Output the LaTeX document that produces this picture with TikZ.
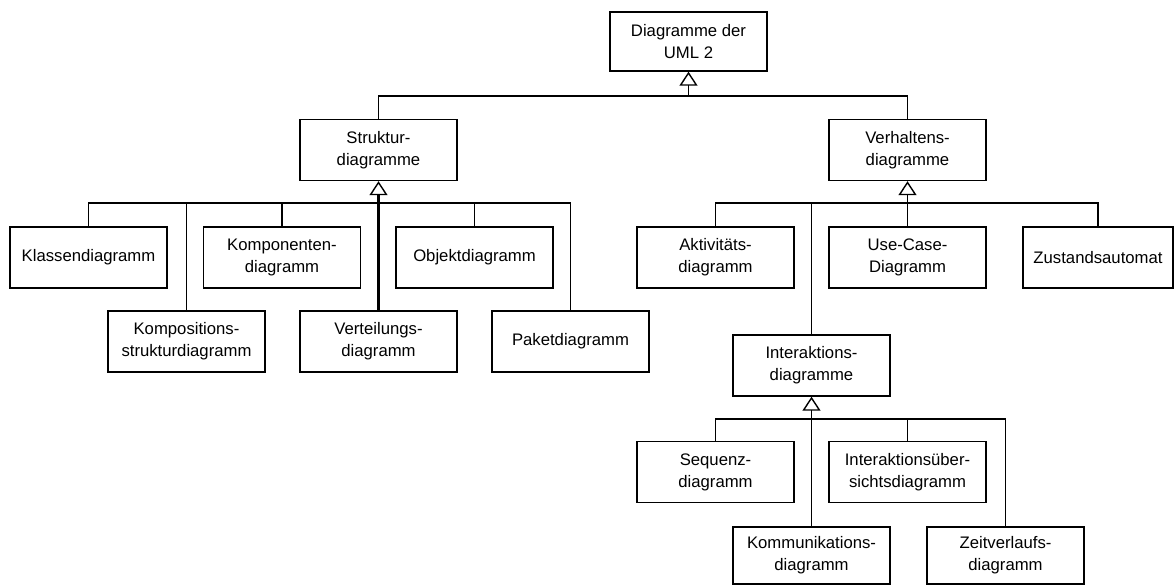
\documentclass[tikz,border=0pt]{standalone}
\usepackage{fontspec}
\setmainfont{Liberation Sans}
\usetikzlibrary{arrows.meta}
\begin{document}
\begin{tikzpicture}[x=1pt,y=-1pt,
  box/.style={draw, line width=1.4pt, minimum width=157pt, minimum height=61pt, inner sep=0pt, align=center, font=\fontsize{16.7}{22}\selectfont},
  conn/.style={line width=1.4pt},
  gen/.style={conn, -{Triangle[open, length=14pt, width=18pt, line width=1.4pt]}},
  boldconn/.style={line width=3pt}
]
\useasboundingbox (0,0) rectangle (1174,585);
\fill[white] (0,0) rectangle (1174,585);

\node[box, minimum height=59pt] (uml) at (688.5,41.5) {Diagramme der\\UML 2};
\node[box] (struktur) at (378.5,150) {Struktur-\\diagramme};
\node[box] (verhalten) at (907.5,150) {Verhaltens-\\diagramme};
\node[box] (klassen) at (88.5,257.5) {Klassendiagramm};
\node[box] (komponenten) at (282,257.5) {Komponenten-\\diagramm};
\node[box] (objekt) at (474.5,257.5) {Objektdiagramm};
\node[box] (kompositionen) at (186.5,341.5) {Kompositions-\\strukturdiagramm};
\node[box] (verteilung) at (378.5,341.5) {Verteilungs-\\diagramm};
\node[box] (paket) at (570.5,341.5) {Paketdiagramm};
\node[box] (aktivitaet) at (715.5,257.5) {Aktivitäts-\\diagramm};
\node[box] (usecase) at (907.5,257.5) {Use-Case-\\Diagramm};
\node[box, minimum width=150pt] (zustand) at (1098,257.5) {Zustandsautomat};
\node[box] (interaktion) at (811.5,365.5) {Interaktions-\\diagramme};
\node[box] (sequenz) at (715.5,472) {Sequenz-\\diagramm};
\node[box] (uebersicht) at (907.5,472) {Interaktionsüber-\\sichtsdiagramm};
\node[box, minimum height=57pt] (kommunikation) at (811.5,555.5) {Kommunikations-\\diagramm};
\node[box, minimum height=57pt] (zeitverlauf) at (1005.5,555.5) {Zeitverlaufs-\\diagramm};

% top level
\coordinate (b0) at (688.5,96);
\draw[gen] (b0) -- (uml.south);
\draw[conn] (struktur.north) |- (b0) -| (verhalten.north);

% Strukturdiagramme
\coordinate (b1) at (378.5,203);
\draw[gen, boldconn] (verteilung.north) -- (struktur.south);
\draw[conn] (klassen.north) |- (b1) -| (paket.north);
\draw[conn] (kompositionen.north) |- (b1);
\draw[conn] (komponenten.north) |- (b1);
\draw[conn] (objekt.north) |- (b1);

% Verhaltensdiagramme
\coordinate (b2) at (907.5,203);
\draw[gen] (usecase.north) -- (verhalten.south);
\draw[conn] (aktivitaet.north) |- (b2) -| (zustand.north);
\draw[conn] (interaktion.north) |- (b2);

% Interaktionsdiagramme
\coordinate (b3) at (811.5,419);
\draw[gen] (kommunikation.north) -- (interaktion.south);
\draw[conn] (sequenz.north) |- (b3) -| (zeitverlauf.north);
\draw[conn] (uebersicht.north) |- (b3);
\end{tikzpicture}
\end{document}
